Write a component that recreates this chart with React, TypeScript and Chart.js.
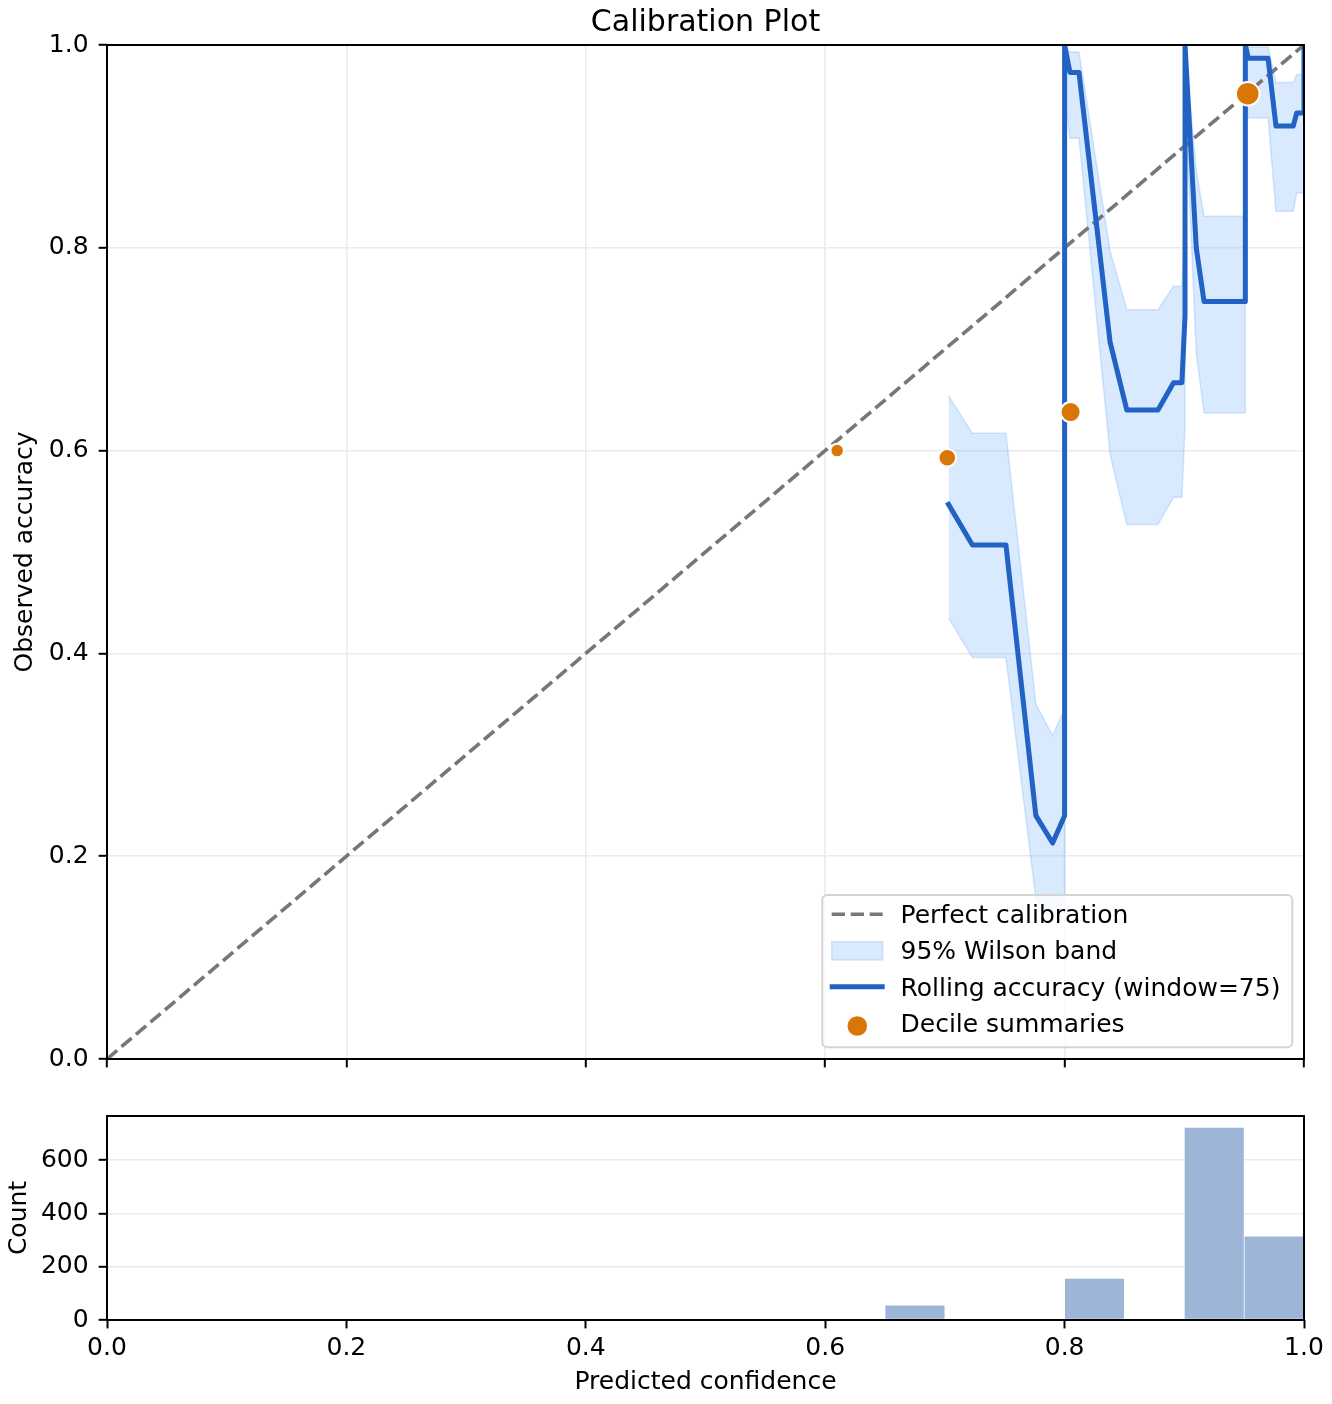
import React, { useEffect, useRef } from "react";
import { Chart, registerables } from "chart.js";

Chart.register(...registerables);

// ---------- data ----------
// rolling accuracy (window = 75) along sorted predicted confidence
const rollConf = [0.703, 0.723, 0.751, 0.776, 0.790, 0.800, 0.800, 0.8045, 0.812, 0.838, 0.852, 0.878, 0.891, 0.898, 0.9006, 0.9006, 0.910, 0.9165, 0.951, 0.951, 0.9535, 0.970, 0.9766, 0.991, 0.9939, 1.000, 1.000];
const rollAcc = [0.547, 0.507, 0.507, 0.240, 0.213, 0.240, 1.000, 0.973, 0.973, 0.707, 0.640, 0.640, 0.667, 0.667, 0.733, 1.000, 0.800, 0.747, 0.747, 1.000, 0.987, 0.987, 0.920, 0.920, 0.933, 0.933, 1.000];
const wilsonLow = [0.435, 0.396, 0.396, 0.158, 0.136, 0.158, 0.951, 0.908, 0.908, 0.596, 0.527, 0.527, 0.554, 0.554, 0.624, 0.951, 0.696, 0.637, 0.637, 0.951, 0.928, 0.928, 0.836, 0.836, 0.854, 0.854, 0.951];
const wilsonHigh = [0.654, 0.617, 0.617, 0.350, 0.319, 0.345, 1.000, 0.993, 0.993, 0.797, 0.739, 0.739, 0.762, 0.762, 0.825, 1.000, 0.876, 0.831, 0.831, 1.000, 0.998, 0.998, 0.963, 0.963, 0.971, 0.971, 1.000];

// decile summaries
const decileConf = [0.610, 0.702, 0.805, 0.953];
const decileAcc = [0.600, 0.593, 0.638, 0.952];
const decileCount = [125, 210, 275, 380];

// perfect calibration diagonal
const diagX = [0, 1];
const diagY = [0, 1];

// histogram of predicted confidence
const binEdges = [0.0, 0.05, 0.1, 0.15, 0.2, 0.25, 0.3, 0.35, 0.4, 0.45, 0.5, 0.55, 0.6, 0.65, 0.7, 0.75, 0.8, 0.85, 0.9, 0.95, 1.0];
const binCounts = [0, 0, 0, 0, 0, 0, 0, 0, 0, 0, 0, 0, 0, 56, 0, 0, 156, 0, 723, 315];

const accTicks = [0, 0.2, 0.4, 0.6, 0.8, 1.0];
const countTicks = [0, 200, 400, 600];

// ---------- styles ----------
const FONT = "DejaVu Sans";
const BLUE = "#2162c4";
const ORANGE = "#d97706";
const GREY = "#777777";
const BAND_FILL = "rgba(96,165,250,0.24)";
const BAND_EDGE = "rgba(96,165,250,0.26)";
const HIST = "rgb(157,181,214)";
const GRID = "#ebebeb";

const pts = (xs: number[], ys: number[]) => xs.map((x, i) => ({ x, y: ys[i] }));
const fmt1 = (v: any) => Number(v).toFixed(1);

const framePlugin = {
  id: "frame",
  afterDatasetsDraw(chart: any) {
    const { ctx, chartArea: a } = chart;
    ctx.save();
    ctx.strokeStyle = "#000";
    ctx.lineWidth = 2;
    ctx.strokeRect(a.left, a.top, a.right - a.left, a.bottom - a.top);
    ctx.restore();
  },
};

const titlePlugin = {
  id: "mtitle",
  afterDraw(chart: any) {
    const { ctx, chartArea: a } = chart;
    ctx.save();
    ctx.font = `30px "${FONT}"`;
    ctx.fillStyle = "#000";
    ctx.textAlign = "center";
    ctx.textBaseline = "alphabetic";
    ctx.fillText("Calibration Plot", (a.left + a.right) / 2, 30.5);
    ctx.restore();
  },
};

const legendPlugin = {
  id: "mlegend",
  afterDatasetsDraw(chart: any) {
    const ctx = chart.ctx;
    const ds = chart.data.datasets;
    const label = (id: string) => ds.find((d: any) => d.id === id).label;
    ctx.save();
    // frame
    const bx = 822.3, by = 895, bw = 470, bh = 152.3, r = 5;
    ctx.beginPath();
    ctx.moveTo(bx + r, by);
    ctx.arcTo(bx + bw, by, bx + bw, by + bh, r);
    ctx.arcTo(bx + bw, by + bh, bx, by + bh, r);
    ctx.arcTo(bx, by + bh, bx, by, r);
    ctx.arcTo(bx, by, bx + bw, by, r);
    ctx.closePath();
    ctx.fillStyle = "rgba(255,255,255,0.8)";
    ctx.fill();
    ctx.strokeStyle = "#d4d4d4";
    ctx.lineWidth = 2;
    ctx.stroke();

    const hx0 = 831.7, hx1 = 882.7;
    // dashed
    ctx.beginPath();
    ctx.setLineDash([13.3, 5.7]);
    ctx.strokeStyle = GREY;
    ctx.lineWidth = 3.6;
    ctx.moveTo(hx0, 914.3);
    ctx.lineTo(hx1, 914.3);
    ctx.stroke();
    ctx.setLineDash([]);
    // band patch
    ctx.fillStyle = BAND_FILL;
    ctx.fillRect(hx0, 941.7, hx1 - hx0, 18.3);
    ctx.strokeStyle = BAND_EDGE;
    ctx.lineWidth = 1.5;
    ctx.strokeRect(hx0, 941.7, hx1 - hx0, 18.3);
    // solid line
    ctx.beginPath();
    ctx.strokeStyle = BLUE;
    ctx.lineWidth = 5;
    ctx.lineCap = "square";
    ctx.moveTo(hx0 + 0.5, 986.7);
    ctx.lineTo(hx1 - 0.5, 986.7);
    ctx.stroke();
    ctx.lineCap = "butt";
    // circle
    ctx.beginPath();
    ctx.fillStyle = ORANGE;
    ctx.arc(857.3, 1026, 9.8, 0, Math.PI * 2);
    ctx.fill();

    ctx.font = `25px "${FONT}"`;
    ctx.fillStyle = "#000";
    ctx.textAlign = "left";
    ctx.textBaseline = "alphabetic";
    ctx.fillText(label("diag"), 900.5, 923.3);
    ctx.fillText(label("bandHigh"), 900.5, 959);
    ctx.fillText(label("roll"), 900.5, 995.7);
    ctx.fillText(label("dec"), 900.5, 1031.7);
    ctx.restore();
  },
};

const tickFont = { family: FONT, size: 25 };

export default function App() {
  const aRef = useRef<HTMLCanvasElement>(null);
  const bRef = useRef<HTMLCanvasElement>(null);

  useEffect(() => {
    const main = new Chart(aRef.current as HTMLCanvasElement, {
      type: "line",
      data: {
        datasets: [
          {
            id: "dec",
            label: "Decile summaries",
            data: pts(decileConf, decileAcc),
            showLine: false,
            pointRadius: decileCount.map((n) => Math.sqrt(n) * 0.605),
            pointBackgroundColor: ORANGE,
            pointBorderColor: "#ffffff",
            pointBorderWidth: 2,
            order: 0,
            clip: 0,
          },
          {
            id: "roll",
            label: "Rolling accuracy (window=75)",
            data: pts(rollConf, rollAcc),
            borderColor: BLUE,
            borderWidth: 5,
            borderJoinStyle: "round",
            borderCapStyle: "square",
            pointRadius: 0,
            tension: 0,
            fill: false,
            order: 1,
            clip: 0,
          },
          {
            id: "diag",
            label: "Perfect calibration",
            data: pts(diagX, diagY),
            borderColor: GREY,
            borderWidth: 3.6,
            borderDash: [13.3, 5.7],
            pointRadius: 0,
            fill: false,
            order: 2,
            clip: 0,
          },
          {
            id: "bandLow",
            label: "Wilson lower",
            data: pts(rollConf, wilsonLow),
            borderColor: BAND_EDGE,
            borderWidth: 1.5,
            pointRadius: 0,
            tension: 0,
            fill: false,
            order: 4,
            clip: 0,
          },
          {
            id: "bandHigh",
            label: "95% Wilson band",
            data: pts(rollConf, wilsonHigh),
            borderColor: BAND_EDGE,
            backgroundColor: BAND_FILL,
            borderWidth: 1.5,
            pointRadius: 0,
            tension: 0,
            fill: 3,
            order: 3,
            clip: 0,
          },
        ] as any,
      },
      options: {
        animation: false,
        responsive: false,
        devicePixelRatio: 1,
        events: [],
        layout: { padding: { top: 45, right: 28, bottom: 0, left: 0 } },
        plugins: { legend: { display: false }, tooltip: { enabled: false }, title: { display: false } },
        scales: {
          x: {
            type: "linear",
            min: 0,
            max: 1,
            afterBuildTicks: (s: any) => { s.ticks = accTicks.map((v) => ({ value: v })); },
            ticks: { display: false },
            grid: { color: GRID, lineWidth: 1.6, tickColor: "#000", tickWidth: 2, tickLength: 8.4 },
            border: { display: false },
            afterFit: (s: any) => { s.height = 31; },
          },
          y: {
            type: "linear",
            min: 0,
            max: 1,
            afterBuildTicks: (s: any) => { s.ticks = accTicks.map((v) => ({ value: v })); },
            ticks: { callback: fmt1, font: tickFont, color: "#000", padding: 10 },
            grid: { color: GRID, lineWidth: 1.6, tickColor: "#000", tickWidth: 2, tickLength: 8.4 },
            border: { display: false },
            title: { display: true, text: "Observed accuracy", font: tickFont, color: "#000", padding: { top: 10, bottom: 0 } },
            afterFit: (s: any) => { s.width = 107; },
          },
        },
      } as any,
      plugins: [framePlugin, legendPlugin, titlePlugin],
    });

    const hist = new Chart(bRef.current as HTMLCanvasElement, {
      type: "bar",
      data: {
        datasets: [
          {
            label: "Count",
            data: binCounts.map((c, i) => ({ x: (binEdges[i] + binEdges[i + 1]) / 2, y: c > 0 ? c : null })),
            backgroundColor: HIST,
            borderColor: "#ffffff",
            borderWidth: 0.7,
            borderSkipped: false,
            barPercentage: 1,
            categoryPercentage: 1,
            clip: 0,
          },
        ] as any,
      },
      options: {
        animation: false,
        responsive: false,
        devicePixelRatio: 1,
        events: [],
        layout: { padding: { top: 26, right: 28, bottom: 0, left: 0 } },
        plugins: { legend: { display: false }, tooltip: { enabled: false }, title: { display: false } },
        scales: {
          x: {
            type: "linear",
            min: 0,
            max: 1,
            offset: false,
            afterBuildTicks: (s: any) => { s.ticks = accTicks.map((v) => ({ value: v })); },
            ticks: { callback: fmt1, font: tickFont, color: "#000", padding: 5, maxRotation: 0, autoSkip: false },
            grid: { display: true, drawOnChartArea: false, offset: false, tickColor: "#000", tickWidth: 2, tickLength: 8.4 },
            border: { display: false },
            title: { display: true, text: "Predicted confidence", font: tickFont, color: "#000", padding: { top: 0, bottom: 6.6 } },
            afterFit: (s: any) => { s.height = 84; },
          },
          y: {
            type: "linear",
            min: 0,
            max: 766,
            afterBuildTicks: (s: any) => { s.ticks = countTicks.map((v) => ({ value: v })); },
            ticks: { font: tickFont, color: "#000", padding: 10 },
            grid: { color: GRID, lineWidth: 1.6, tickColor: "#000", tickWidth: 2, tickLength: 8.4 },
            border: { display: false },
            title: { display: true, text: "Count", font: tickFont, color: "#000", padding: { top: 4.2, bottom: 0 } },
            afterFit: (s: any) => { s.width = 107; },
          },
        },
      } as any,
      plugins: [framePlugin],
    });

    return () => {
      main.destroy();
      hist.destroy();
    };
  }, []);

  return (
    <div style={{ position: "absolute", left: 0, top: 0, width: 1332, height: 1404, background: "#ffffff" }}>
      <canvas ref={aRef} width={1332} height={1090} style={{ position: "absolute", left: 0, top: 0, width: 1332, height: 1090 }} />
      <canvas ref={bRef} width={1332} height={314} style={{ position: "absolute", left: 0, top: 1090, width: 1332, height: 314 }} />
    </div>
  );
}
